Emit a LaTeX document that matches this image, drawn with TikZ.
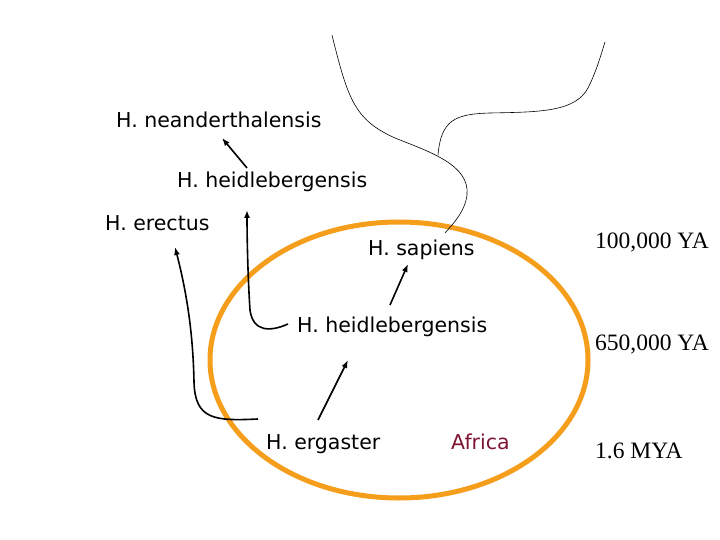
\documentclass[tikz,border=0pt]{standalone}
\usepackage{fontspec}
\setmainfont{DejaVu Sans}
\newfontfamily\datefont{Liberation Serif}
\usetikzlibrary{arrows.meta,calc}
\definecolor{africaorange}{RGB}{245,158,28}
\definecolor{africared}{RGB}{125,20,50}

\begin{document}
\begin{tikzpicture}[x=1pt,y=-1pt,
    species/.style ={inner sep=0pt, anchor=base west, font=\fontsize{20.5}{24}\selectfont},
    era/.style ={inner sep=0pt, anchor=base west, font=\datefont\fontsize{23.5}{28}\selectfont},
    lineage/.style ={line width=1.6pt, -{Latex[length=8pt,width=6pt]}},
    gene/.style ={line width=0.6pt}]
   \useasboundingbox (0,0) rectangle (720,540);
   \draw[africaorange, line width=5pt] (399,360) ellipse [x radius=189, y radius=138];

   \node[species] (nea) at (116,128) {H. neanderthalensis};
   \node[species] (heiU) at (177,188) {H. heidlebergensis};
   \node[species] (ere) at (105,230) {H. erectus};
   \node[species] (sap) at (368,255) {H. sapiens};
   \node[species] (heiL) at (297,332) {H. heidlebergensis};
   \node[species] (erg) at (266,449) {H. ergaster};
   \node[species, text=africared] (afr) at (451,449) {Africa};

   \node[era] (t1) at (595,248) {100,000 YA};
   \node[era] (t2) at (595,350) {650,000 YA};
   \node[era] (t3) at (595,458) {1.6 MYA};

   \coordinate (topA) at (332,35);
   \coordinate (topB) at (605,42);
   \coordinate (fork) at (438,155);

   \draw[lineage] ($(heiU.base west)+(70,-20)$) to ($(nea.base west)+(106,10)$);
   \draw[lineage] ($(heiL.base west)+(93,-27)$) to ($(sap.base west)+(40,9)$);
   \draw[lineage] ($(erg.base west)+(52,-29)$) to ($(heiL.base west)+(51,28)$);
   \draw[lineage] ($(heiL.base west)+(-9,-8)$) .. controls (270,332) and (253,332) .. (250,310)
      .. controls (248,280) and (247,240) .. ($(heiU.base west)+(70,22)$);
   \draw[lineage] ($(erg.base west)+(-8,-30)$) .. controls (215,421) and (195,420) .. (194,382)
      .. controls (193,330) and (186,290) .. ($(ere.base west)+(70,17)$);

   \draw[gene] (topA) .. controls (348,100) and (355,120) .. (395,138)
      .. controls (430,152) and (470,165) .. (467,195)
      .. controls (465,212) and (452,225) .. ($(sap.base west)+(77,-22)$);
   \draw[gene] (fork) .. controls (441,120) and (455,114) .. (490,113)
      .. controls (540,112) and (575,112) .. (588,88)
      .. controls (596,72) and (600,58) .. (topB);
 \end{tikzpicture}
\end{document}
